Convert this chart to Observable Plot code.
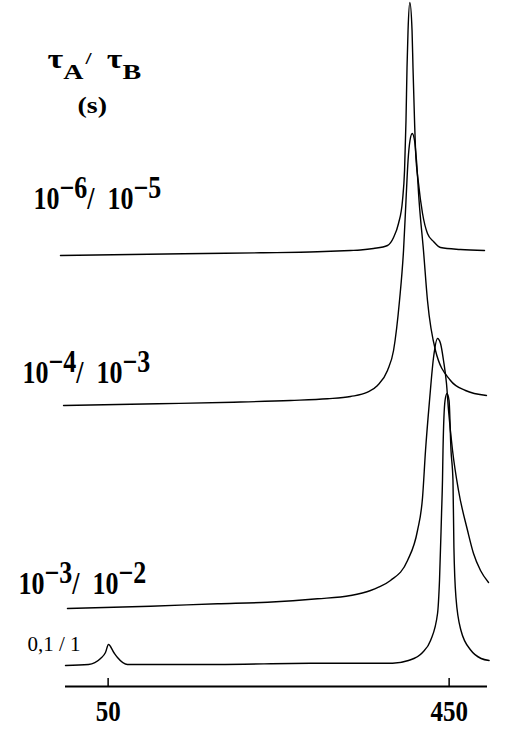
<!DOCTYPE html>
<html>
<head>
<meta charset="utf-8">
<script src="https://cdn.jsdelivr.net/npm/d3@7"></script>
<script src="https://cdn.jsdelivr.net/npm/@observablehq/plot@0.6"></script>
<style>
  html, body { margin: 0; padding: 0; background: #fff; }
  #chart { width: 514px; height: 729px; }
</style>
</head>
<body>
<div id="chart"></div>
<script>
// ---- data ----
const seriesNames = ["1e-6/1e-5", "1e-4/1e-3", "1e-3/1e-2", "0.1/1"];
const baselines = [431, 281, 78, 21]; // vertical offset of each stacked spectrum

const x1 = [-5.9, 138.4, 228.7, 295.6, 334.3, 346.0, 361.3, 377.7, 384.8, 390.6, 395.3, 397.7, 399.4, 400.6, 401.8, 403.9, 406.5, 407.6, 409.4, 410.6, 414.1, 418.8, 424.6, 431.7, 439.9, 463.3, 491.5];
const i1 = [0, 1.7, 2.7, 3.7, 5, 5.5, 7, 10, 18, 32, 55, 85, 135, 188, 225, 253, 225, 188, 135, 105, 72, 42, 22, 14, 8, 6, 5];

const x2 = [-2.3, 107.9, 197.1, 263.9, 307.3, 334.3, 354.3, 366.0, 377.7, 384.8, 391.8, 396.5, 399.4, 401.8, 404.1, 406.7, 409.4, 411.7, 414.7, 419.9, 424.6, 434.0, 451.6, 469.2, 493.8];
const i2 = [0, 1.7, 3.3, 5, 6.7, 9, 13.3, 20, 35, 55, 105, 155, 205, 245, 265, 272, 265, 245, 205, 155, 105, 55, 25, 15, 10];

const x3 = [2.3, 99.7, 178.3, 237.0, 295.6, 334.3, 357.8, 367.2, 381.2, 401.2, 412.9, 418.8, 422.3, 427.0, 431.7, 436.4, 439.9, 443.4, 446.9, 449.3, 454.0, 461.0, 471.6, 478.6, 486.8, 496.2];
const i3 = [0, 2.3, 4.7, 6.3, 9.7, 13, 18, 21.3, 28, 48, 78, 111, 158, 208, 251, 270, 265, 248, 225, 198, 158, 118, 78, 55, 38, 26];

const x4 = [0, 27.0, 41.1, 46.9, 50.4, 56.7, 61.0, 72.7, 178.3, 287.4, 383.6, 402.3, 418.8, 428.2, 436.4, 438.7, 441.1, 442.2, 442.8, 445.2, 447.5, 449.9, 452.2, 454.5, 455.6, 458.0, 463.9, 475.7, 487.5, 496.9];
const i4 = [0, 1, 7, 13, 21, 13, 8, 1, 1, 2.3, 2.3, 5, 13, 25, 52, 85, 152, 185, 215, 265, 272, 265, 215, 185, 118, 68, 35, 15, 7, 5];

const tickValues = [50, 450];
const traceLabels = ["10^{−6}/\u00a0\u00a010^{−5}", "10^{−4}/\u00a0\u00a010^{−3}", "10^{−3}/\u00a0\u00a010^{−2}"];
const smallLabel = "0,1 / 1";
const titleText = "τ_{A}^{/}\u00a0\u2009τ_{B}";
const unitText = "(s)";

// ---- build table ----
const xs = [x1, x2, x3, x4];
const is = [i1, i2, i3, i4];
const rows = [];
xs.forEach((xa, k) => xa.forEach((xv, j) => rows.push({series: seriesNames[k], x: xv, y: baselines[k] + is[k][j]})));

const labelRows = [
  {text: traceLabels[0], x: -37.5, y: 478},
  {text: traceLabels[1], x: -50.4, y: 304},
  {text: traceLabels[2], x: -55.1, y: 93}
];
const serif = "'Liberation Serif', 'Times New Roman', serif";

const chart = Plot.plot({
  width: 514,
  height: 729,
  marginLeft: 65,
  marginRight: 27,
  marginTop: 0,
  marginBottom: 43,
  x: {domain: [0, 495]},
  y: {domain: [0, 686], axis: null},
  style: {background: "#fff", fontFamily: serif, color: "#000"},
  marks: [
    Plot.ruleY([0], {strokeWidth: 2.2, stroke: "#000"}),
    Plot.ruleX(tickValues, {y1: 0, y2: 8, strokeWidth: 1.5, stroke: "#000"}),
    Plot.axisX(tickValues, {tickSize: 0, tickPadding: 14, fontSize: 25, fontWeight: "bold", fontFamily: serif, label: null}),
    Plot.line(rows, {x: "x", y: "y", z: "series", stroke: "#000", strokeWidth: 1.4, curve: "monotone-x"}),
    Plot.text(labelRows, {x: "x", y: "y", text: "text", textAnchor: "start", lineAnchor: "bottom", fontSize: 26, fontWeight: "bold", fontFamily: serif, fill: "#000"}),
    Plot.text([smallLabel], {x: -44.6, y: 36, text: d => d, textAnchor: "start", lineAnchor: "bottom", fontSize: 21, fontFamily: serif, fill: "#000"}),
    Plot.text([titleText], {x: -21.1, y: 619, text: d => d, textAnchor: "start", lineAnchor: "bottom", fontSize: 34, fontWeight: "bold", fontFamily: serif, fill: "#000"}),
    Plot.text([unitText], {x: 14.1, y: 573.5, text: d => d, textAnchor: "start", lineAnchor: "bottom", fontSize: 28, fontWeight: "bold", fontFamily: serif, fill: "#000"})
  ]
});

// rich text: ^{..} superscript, _{..} subscript
function richify(el, sup, sub) {
  const s = el.textContent;
  const parts = s.split(/(\^\{[^}]*\}|_\{[^}]*\})/).filter(d => d);
  const t = d3.select(el);
  t.text(null);
  let cur = 0;
  for (const p of parts) {
    let shift = 0, size = null, dx = 0, txt = p;
    if (p.startsWith("^{")) { shift = -sup.shift; size = sup.size; dx = sup.dx || 0; txt = p.slice(2, -1); }
    else if (p.startsWith("_{")) { shift = sub.shift; size = sub.size; dx = sub.dx || 0; txt = p.slice(2, -1); }
    const ts = t.append("tspan").attr("dy", shift - cur).text(txt);
    if (dx) ts.attr("dx", dx);
    if (size) ts.attr("font-size", size);
    cur = shift;
  }
}
function stretch(el, sx, sy) {
  const tr = el.getAttribute("transform") || "";
  el.setAttribute("transform", `${tr} scale(${sx},${sy})`);
}
d3.select(chart).selectAll("text").each(function() {
  const s = this.textContent;
  if (s.includes("τ")) {
    richify(this, {shift: 5, size: 22, dx: 2}, {shift: 15, size: 28, dx: 0});
    stretch(this, 1, 0.78);
  } else if (/\^\{/.test(s)) {
    richify(this, {shift: 8.5, size: 26}, {shift: 0, size: 26});
    stretch(this, 1, 1.18);
  } else if (s === unitText) {
    stretch(this, 1, 0.8);
  } else if (tickValues.map(String).includes(s)) {
    stretch(this, 1, 1.15);
  }
});

document.getElementById("chart").append(chart);
</script>
</body>
</html>
